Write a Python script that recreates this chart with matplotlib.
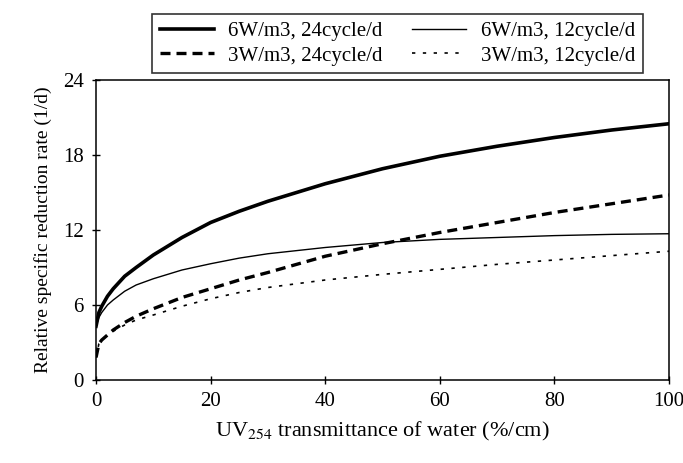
import matplotlib.pyplot as plt

# chart data
x = [0, 0.5, 1, 2, 3, 5, 7, 10, 15, 20, 25, 30, 40, 50, 60, 70, 80, 90, 100]
s_6_24 = [4.3, 5.4, 5.9, 6.7, 7.3, 8.3, 9.0, 10.0, 11.4, 12.6, 13.5, 14.3, 15.7, 16.9, 17.9, 18.7, 19.4, 20.0, 20.5]
s_6_12 = [4.3, 5.0, 5.4, 6.0, 6.4, 7.1, 7.6, 8.1, 8.8, 9.3, 9.75, 10.1, 10.6, 11.0, 11.25, 11.4, 11.55, 11.65, 11.7]
s_3_24 = [1.8, 2.9, 3.2, 3.6, 4.0, 4.6, 5.1, 5.7, 6.6, 7.3, 8.0, 8.6, 9.9, 10.9, 11.8, 12.6, 13.4, 14.1, 14.8]
s_3_12 = [1.8, 2.9, 3.2, 3.6, 3.9, 4.4, 4.8, 5.2, 5.9, 6.5, 7.0, 7.4, 8.0, 8.45, 8.85, 9.25, 9.6, 9.95, 10.3]

labels = ['6W/m3, 24cycle/d', '6W/m3, 12cycle/d', '3W/m3, 24cycle/d', '3W/m3, 12cycle/d']
xticks = [0, 20, 40, 60, 80, 100]
yticks = [0, 6, 12, 18, 24]

plt.rcParams['font.family'] = ['Liberation Serif', 'DejaVu Serif']
plt.rcParams['mathtext.fontset'] = 'stix'

fig = plt.figure(figsize=(6.83, 4.63), dpi=100)
ax = fig.add_axes([0.1406, 0.1793, 0.8389, 0.6479])

l1, = ax.plot(x, s_6_24, color='black', lw=2.6, label=labels[0])
l2, = ax.plot(x, s_6_12, color='black', lw=1.0, label=labels[1])
l3, = ax.plot(x, s_3_24, color='black', lw=2.4, dashes=(3, 1.8), label=labels[2])
l4, = ax.plot(x, s_3_12, color='black', lw=1.2, dashes=(2, 4.5), label=labels[3])

ax.set_xlim(0, 100)
ax.set_ylim(0, 24)
ax.set_xticks(xticks)
ax.set_yticks(yticks)
ax.tick_params(direction='inout', length=6, width=1, labelsize=15, pad=6)
for sp in ax.spines.values():
    sp.set_linewidth(1.1)

ax.set_xlabel('UV$_{254}$ transmittance of water (%/cm)', fontsize=16, labelpad=6)
ax.set_ylabel('Relative specific reduction rate (1/d)', fontsize=14, labelpad=8)

# legend fills by column, so order handles to get the reference rows
leg = fig.legend([l1, l3, l2, l4], [labels[0], labels[2], labels[1], labels[3]],
                 loc='upper center', bbox_to_anchor=(0.582, 0.992), ncol=2,
                 fontsize=15, frameon=True, fancybox=False, edgecolor='black',
                 handlelength=2.6, columnspacing=1.4, borderpad=0.35,
                 labelspacing=0.25, handletextpad=0.7)
leg.get_frame().set_linewidth(1.2)

fig.savefig('out.png', dpi=100)
